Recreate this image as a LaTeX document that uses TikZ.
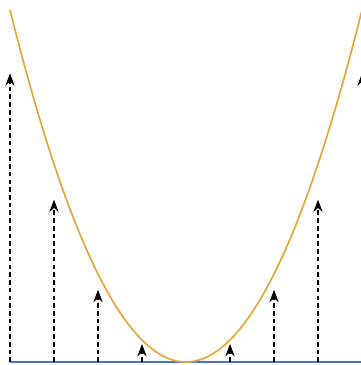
\documentclass[tikz,border=0pt]{standalone}
\usetikzlibrary{arrows.meta}
\definecolor{curveorange}{RGB}{232,168,56}
\definecolor{axisblue}{RGB}{78,114,190}
\begin{document}
\begin{tikzpicture}[x=1cm, y=1cm,
		lift/.style={densely dashed, line width=0.7pt, -{Stealth[length=8pt, width=6pt]}}]
				\useasboundingbox (-4.227,-0.068) rectangle (3.977,8.227);
				\draw[axisblue, line width=0.8pt] (-4,0) -- (4,0);
				\foreach \u in {-4,-3,-2,-1,1,2,3,4}
					\draw[lift] (\u,0) -- (\u,{0.41*\u*\u});
				\draw[curveorange, line width=1.1pt, domain=-4:4, samples=100] plot (\x,{0.5*\x*\x});
			\end{tikzpicture}
\end{document}
